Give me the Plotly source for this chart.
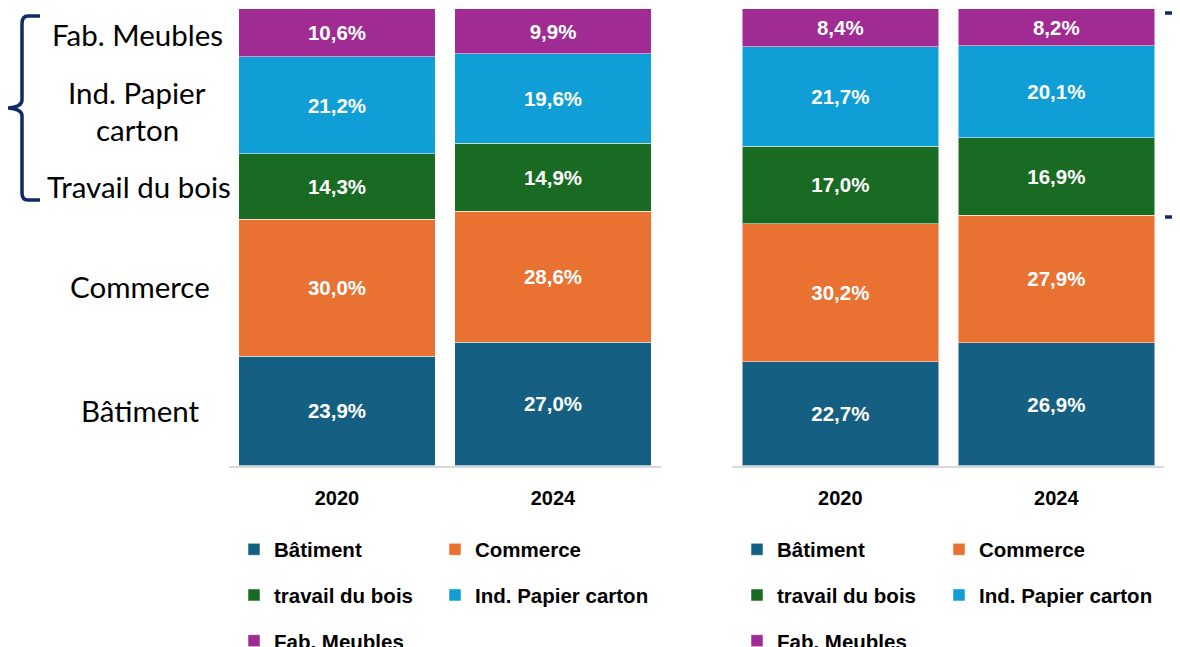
import plotly.graph_objects as go

OFF = 8  # page body margin
W, H = 1180 - OFF, 647 - OFF

years = ["2020", "2024"]
sectors = ["Bâtiment", "Commerce", "travail du bois", "Ind. Papier carton", "Fab. Meubles"]
colors = ["#156082", "#E97132", "#196B24", "#0F9ED5", "#A02B93"]

# shares (%) per sector, [2020, 2024]
left_batiment = [23.9, 27.0]
left_commerce = [30.0, 28.6]
left_bois = [14.3, 14.9]
left_papier = [21.2, 19.6]
left_meubles = [10.6, 9.9]

right_batiment = [22.7, 26.9]
right_commerce = [30.2, 27.9]
right_bois = [17.0, 16.9]
right_papier = [21.7, 20.1]
right_meubles = [8.4, 8.2]

side_labels = ["Fab. Meubles", "Ind. Papier", "carton", "Travail du bois", "Commerce", "Bâtiment"]

left_series = [left_batiment, left_commerce, left_bois, left_papier, left_meubles]
right_series = [right_batiment, right_commerce, right_bois, right_papier, right_meubles]

def px(x):
    return (x - OFF) / W

def py(y):
    return 1 - (y - OFF) / H

fig = go.Figure()

col_of = [0, 1, 0, 1, 0]  # legend column per sector
for side, series in enumerate([left_series, right_series]):
    xa = "x" if side == 0 else "x2"
    ya = "y" if side == 0 else "y2"
    for i, vals in enumerate(series):
        k = side * 2 + col_of[i]
        legname = "legend" + ("" if k == 0 else str(k + 1))
        fig.add_trace(go.Bar(
            x=years, y=vals, name=sectors[i], xaxis=xa, yaxis=ya,
            marker=dict(color=colors[i], line=dict(color="rgba(255,255,255,0.5)", width=1)),
            texttemplate="%{y:.1f}%", textposition="inside", insidetextanchor="middle",
            textangle=0,
            textfont=dict(family="Liberation Sans", size=20.5, color="white", weight="bold"),
            legend=legname, legendgroup=f"g{side}{i}", hoverinfo="skip",
        ))

ydom = [py(465.5), py(8.5)]
axis_common = dict(type="category", showline=True, linecolor="#d9d9d9", linewidth=2,
                   ticks="", showgrid=False, zeroline=False, ticklabelstandoff=13,
                   tickfont=dict(family="Liberation Sans", size=20, color="black", weight="bold"),
                   fixedrange=True)
yaxis_common = dict(range=[0, 100], visible=False, domain=ydom, fixedrange=True)

leg_font = dict(family="Liberation Sans", size=20.5, color="black", weight="bold")
def leg(x):
    return dict(x=px(x), y=py(529.5), xanchor="left", yanchor="top", orientation="v",
                traceorder="grouped", tracegroupgap=16, font=leg_font,
                bgcolor="rgba(0,0,0,0)", itemclick=False, itemdoubleclick=False)

fig.update_layout(
    width=W, height=H, autosize=False,
    margin=dict(l=0, r=0, t=0, b=0, autoexpand=False),
    paper_bgcolor="white", plot_bgcolor="white",
    barmode="stack", bargap=0.09, separators=",.",
    xaxis=dict(domain=[px(229), px(661)], anchor="y", **axis_common),
    xaxis2=dict(domain=[px(732.3), px(1164.3)], anchor="y2", **axis_common),
    yaxis=dict(anchor="x", **yaxis_common),
    yaxis2=dict(anchor="x2", **yaxis_common),
    legend=leg(234), legend2=leg(435),
    legend3=leg(737), legend4=leg(939),
    uniformtext=dict(minsize=20, mode="show"),
)

# side labels
label_pos = [(137, 35), (137, 92), (137, 130), (139, 186), (140, 286), (140, 410)]
for txt, (lx, ly) in zip(side_labels, label_pos):
    fig.add_annotation(text=txt, x=px(lx), y=py(ly), xref="paper", yref="paper",
                       xanchor="center", yanchor="middle", showarrow=False,
                       font=dict(family="Lato", size=29.5, color="black"))

brace_color = "#0f2a66"

def P(x, y):
    return f"{px(x):.5f},{py(y):.5f}"

left_brace = (f"M{P(40,16)} L{P(28,16)} Q{P(22,16)} {P(22,24)} L{P(22,100)} "
              f"Q{P(22,108)} {P(4,108)} Q{P(22,108)} {P(22,116)} L{P(22,193)} "
              f"Q{P(22,200)} {P(28,200)} L{P(40,200)}")
fig.add_shape(type="path", path=left_brace, xref="paper", yref="paper",
              line=dict(color=brace_color, width=3.5))
# right brace: only its two end ticks are visible at the page edge
for yy in (13, 217):
    fig.add_shape(type="line", x0=px(1165), x1=px(1174), y0=py(yy), y1=py(yy),
                  xref="paper", yref="paper", layer="above",
                  line=dict(color=brace_color, width=3.5))

fig.write_html("out.html")
